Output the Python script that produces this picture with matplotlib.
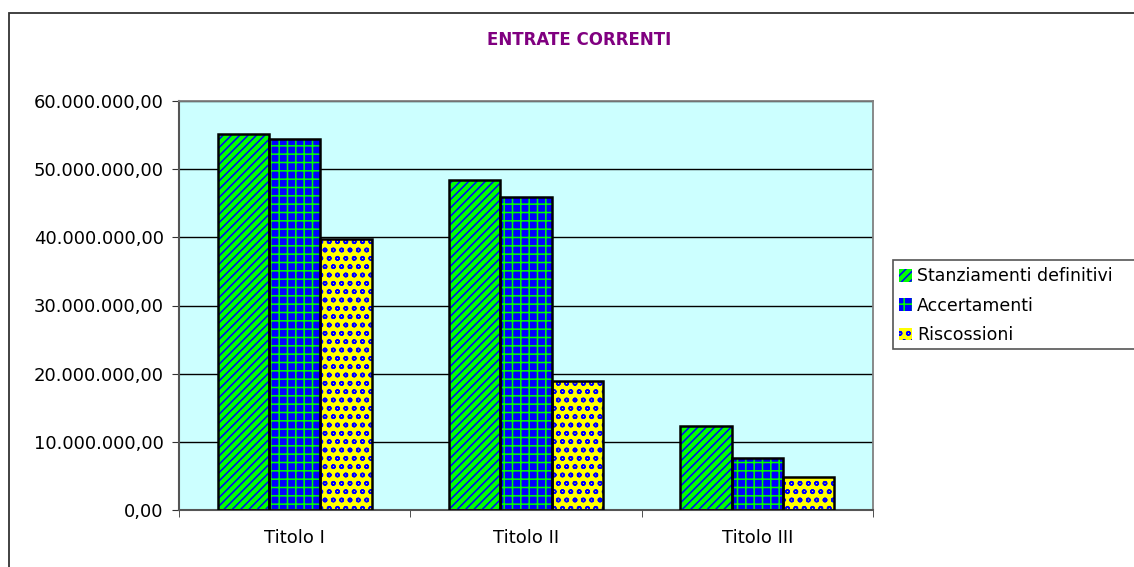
import matplotlib.pyplot as plt
import matplotlib.patches as mpatches
import numpy as np

categorie = ["Titolo I", "Titolo II", "Titolo III"]
stanziamenti = [55150000, 48400000, 12300000]
accertamenti = [54400000, 45900000, 7600000]
riscossioni = [39750000, 18900000, 4800000]

serie = [
    ("Stanziamenti definitivi", stanziamenti, "#00FF00", "#0000FF", "////"),
    ("Accertamenti", accertamenti, "#0000FF", "#00FF00", "++"),
    ("Riscossioni", riscossioni, "#FFFF00", "#0000FF", "oo"),
]

plt.rcParams['hatch.linewidth'] = 1.1

fig = plt.figure(figsize=(11.34, 5.67), dpi=100)
ax = fig.add_axes([179/1134, 57/567, 694/1134, 409/567])
ax.set_facecolor("#CCFFFF")

# cornice del grafico
fig.patches.append(mpatches.Rectangle((9/1134, -0.05), 1.1, 0.977 + 0.05,
                                      transform=fig.transFigure, fill=False,
                                      edgecolor="#333333", linewidth=1.3))

x = np.arange(len(categorie))
w = 1 / 4.5
handles = []
for i, (nome, vals, fc, hc, hatch) in enumerate(serie):
    pos = x + (i - 1) * w
    ax.bar(pos, vals, width=w, color=fc, edgecolor=hc, hatch=hatch, linewidth=0, zorder=2)
    ax.bar(pos, vals, width=w, fill=False, edgecolor="black", linewidth=1.8, zorder=3)
    handles.append(mpatches.Patch(facecolor=fc, edgecolor=hc, hatch=hatch, label=nome))

ax.set_xlim(-0.5, 2.5)
ax.set_ylim(0, 60000000)
ax.set_yticks(np.arange(0, 60000001, 10000000))
ax.set_yticklabels([f"{v:,.2f}".replace(",", "X").replace(".", ",").replace("X", ".")
                    for v in np.arange(0, 60000001, 10000000)], fontsize=13)
ax.set_xticks(x)
ax.set_xticklabels(categorie, fontsize=13)
ax.tick_params(axis='x', length=0, pad=14)
ax.set_xticks([-0.5, 0.5, 1.5, 2.5], minor=True)
ax.tick_params(axis='x', which='minor', length=5, color="#333333")
ax.tick_params(axis='y', length=5, color="#333333", pad=6)
ax.yaxis.grid(True, color="black", linewidth=1)
ax.set_axisbelow(True)
for s in ["top", "right"]:
    ax.spines[s].set_color("#808080")
    ax.spines[s].set_linewidth(1.3)
for s in ["left", "bottom"]:
    ax.spines[s].set_color("#555555")
    ax.spines[s].set_linewidth(1.5)

fig.text(579/1134, 1 - 40/567, "ENTRATE CORRENTI", color="#800080",
         fontsize=12, fontweight="bold", ha="center", va="center")

# riquadro della legenda (prosegue oltre il bordo destro)
fig.patches.append(mpatches.Rectangle((893/1134, 1 - 349/567), 0.3, 89/567,
                                      transform=fig.transFigure, facecolor="white",
                                      edgecolor="#555555", linewidth=1.2))
leg = fig.legend(handles=handles, loc="upper left", bbox_to_anchor=(896/1134, 1 - 264/567),
                 fontsize=12.5, frameon=False, handlelength=0.75,
                 handleheight=0.75, handletextpad=0.25, borderpad=0.2, labelspacing=0.65,
                 borderaxespad=0)
for h in leg.legend_handles:
    h.set_linewidth(0)

fig.savefig("out.png", dpi=100)
